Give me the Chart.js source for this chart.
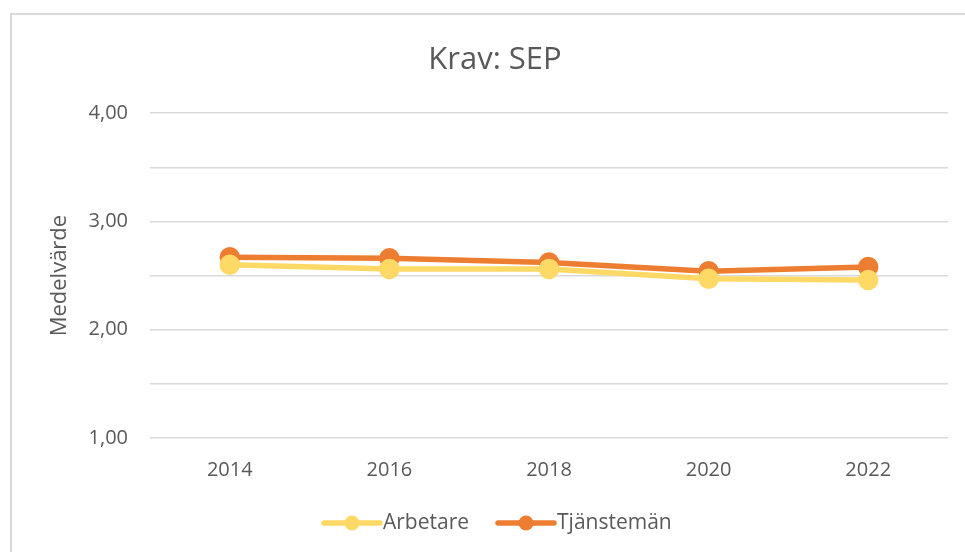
<!DOCTYPE html>
<html>
<head>
<meta charset="utf-8">
<script src="https://cdn.jsdelivr.net/npm/chart.js@4.4.1/dist/chart.umd.min.js"></script>
<style>
  body { margin: 0; background: #fff; overflow: hidden; }
  #wrap { position: absolute; left: 10px; top: 13px; width: 965px; height: 545px;
          border-left: 2px solid #d9d9d9; border-top: 2px solid #d9d9d9; }
  #myChart { display: block; }
</style>
</head>
<body>
<div id="wrap"><canvas id="myChart" width="953" height="537"></canvas></div>
<script>
const years = ['2014', '2016', '2018', '2020', '2022'];
const arbetare = [2.60, 2.56, 2.56, 2.47, 2.46];
const tjansteman = [2.67, 2.66, 2.62, 2.54, 2.58];
const seriesNames = ['Arbetare', 'Tjänstemän'];
const seriesColors = ['#FFD966', '#ED7D31'];

const font = "'Open Sans', 'Liberation Sans', sans-serif";

// legend like Excel: short line with a dot, then the name
const lineLegend = {
    id: 'lineLegend',
    afterDraw(chart) {
        const ctx = chart.ctx;
        const y = 508;
        let x = 312;
        ctx.save();
        ctx.font = '21px ' + font;
        ctx.textBaseline = 'middle';
        chart.data.datasets.forEach(ds => {
            ctx.strokeStyle = ds.borderColor;
            ctx.lineWidth = 5.5;
            ctx.lineCap = 'round';
            ctx.beginPath();
            ctx.moveTo(x, y);
            ctx.lineTo(x + 56, y);
            ctx.stroke();
            ctx.fillStyle = ds.borderColor;
            ctx.beginPath();
            ctx.arc(x + 28, y, 7.5, 0, Math.PI * 2);
            ctx.fill();
            ctx.fillStyle = '#595959';
            ctx.fillText(ds.label, x + 59, y);
            x += 59 + ctx.measureText(ds.label).width + 29;
        });
        ctx.restore();
    }
};

new Chart(document.getElementById('myChart'), {
    type: 'line',
    data: {
        labels: years,
        datasets: [
            {
                label: seriesNames[0],
                data: arbetare,
                borderColor: seriesColors[0],
                backgroundColor: seriesColors[0],
                borderWidth: 5.5,
                pointRadius: 7.5,
                pointHoverRadius: 7.5,
                tension: 0
            },
            {
                label: seriesNames[1],
                data: tjansteman,
                borderColor: seriesColors[1],
                backgroundColor: seriesColors[1],
                borderWidth: 5.5,
                pointRadius: 7.5,
                pointHoverRadius: 7.5,
                tension: 0
            }
        ]
    },
    options: {
        responsive: false,
        animation: false,
        layout: { padding: { top: 0, right: 17, bottom: 58, left: 30 } },
        plugins: {
            legend: { display: false },
            tooltip: { enabled: false },
            title: {
                display: true,
                text: 'Krav: SEP',
                color: '#595959',
                font: { family: font, size: 31, weight: 'normal' },
                padding: { top: 27, bottom: 34 }
            }
        },
        scales: {
            x: {
                offset: true,
                grid: { display: false },
                border: { display: false },
                ticks: { color: '#595959', font: { family: font, size: 20 }, padding: 12 }
            },
            y: {
                min: 1,
                max: 4,
                afterFit(scale) { scale.width = 108; },
                grid: { color: '#d9d9d9', lineWidth: 1.5, drawTicks: false },
                border: { display: false },
                ticks: {
                    stepSize: 0.5,
                    color: '#595959',
                    font: { family: font, size: 20 },
                    padding: 22,
                    callback: v => Number.isInteger(v) ? v.toFixed(2).replace('.', ',') : ''
                },
                title: {
                    display: true,
                    text: 'Medelvärde',
                    color: '#595959',
                    font: { family: font, size: 22, weight: 'normal' },
                    padding: { top: 5, bottom: 0 }
                }
            }
        }
    },
    plugins: [lineLegend]
});
</script>
</body>
</html>
